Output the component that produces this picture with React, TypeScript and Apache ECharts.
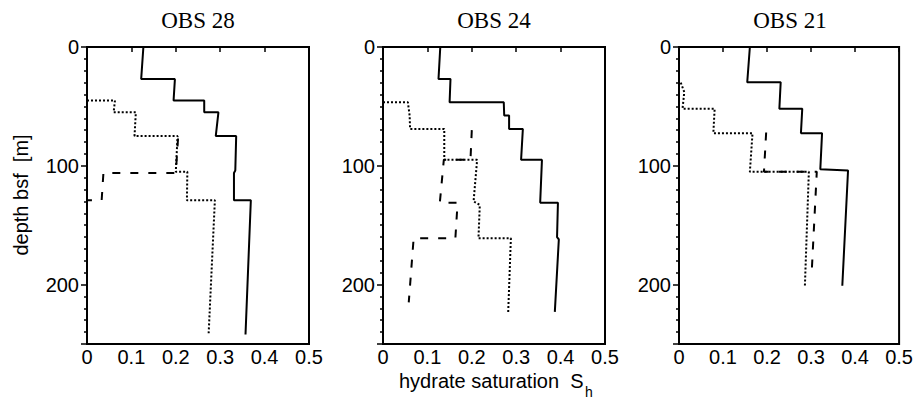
import React, { useEffect, useRef } from "react";
import * as echarts from "echarts";

const panelTitles = ["OBS 28", "OBS 24", "OBS 21"];
const xTickValues = [0, 0.1, 0.2, 0.3, 0.4, 0.5];
const depthTickValues = [0, 100, 200];

// OBS 28
const obs28SolidSat = [0.127, 0.122, 0.198, 0.195, 0.264, 0.264, 0.296, 0.29, 0.336, 0.334, 0.331, 0.331, 0.369, 0.357];
const obs28SolidDepth = [0, 27, 27, 45, 45, 55, 55, 75, 75, 104, 106, 129, 129, 242];
const obs28DotSat = [0, 0.063, 0.06, 0.11, 0.107, 0.204, 0.2, 0.226, 0.225, 0.288, 0.274];
const obs28DotDepth = [45, 45, 55, 55, 75, 75, 105, 105, 129, 129, 241];
const obs28DashSat = [0.205, 0.2, 0.037, 0.033, 0];
const obs28DashDepth = [77, 106, 106, 129, 129];

// OBS 24
const obs24SolidSat = [0.129, 0.125, 0.152, 0.15, 0.272, 0.273, 0.284, 0.284, 0.315, 0.311, 0.358, 0.354, 0.394, 0.392, 0.396, 0.387];
const obs24SolidDepth = [0, 27, 27, 46.5, 46.5, 57.7, 57.7, 69, 69, 95, 95, 131, 131, 160, 162, 223];
const obs24DotSat = [0, 0.056, 0.06, 0.061, 0.138, 0.138, 0.212, 0.204, 0.218, 0.215, 0.288, 0.282];
const obs24DotDepth = [46.5, 46.5, 57.7, 69, 69, 95, 95, 130, 133, 161, 161, 223];
const obs24DashSat = [0.2, 0.197, 0.137, 0.128, 0.168, 0.163, 0.069, 0.058];
const obs24DashDepth = [70, 95, 95, 131, 131, 161, 161, 215];

// OBS 21
const obs21SolidSat = [0.161, 0.155, 0.231, 0.228, 0.28, 0.277, 0.325, 0.321, 0.384, 0.371];
const obs21SolidDepth = [0, 29.7, 29.7, 52, 52, 72.5, 72.5, 103, 104, 201];
const obs21DotSat = [0.004, 0.012, 0.008, 0.081, 0.078, 0.167, 0.161, 0.295, 0.286];
const obs21DotDepth = [30, 38, 52, 52, 72.5, 72.5, 105, 105, 201];
const obs21DashSat = [0.198, 0.193, 0.313, 0.301];
const obs21DashDepth = [72, 105, 105, 193];

const panels = [
  { solid: [obs28SolidSat, obs28SolidDepth], dot: [obs28DotSat, obs28DotDepth], dash: [obs28DashSat, obs28DashDepth] },
  { solid: [obs24SolidSat, obs24SolidDepth], dot: [obs24DotSat, obs24DotDepth], dash: [obs24DashSat, obs24DashDepth] },
  { solid: [obs21SolidSat, obs21SolidDepth], dot: [obs21DotSat, obs21DotDepth], dash: [obs21DashSat, obs21DashDepth] },
];

const zip = (a: number[], b: number[]) => a.map((v, i) => [v, b[i]]);

const SANS = "'Liberation Sans', Arial, sans-serif";
const SERIF = "'Liberation Serif', 'Times New Roman', serif";

export default function App() {
  const ref = useRef<HTMLDivElement>(null);
  useEffect(() => {
    if (!ref.current) return;
    const chart = echarts.init(ref.current, undefined, { renderer: "svg" });
    const lefts = [87, 383, 679];
    const W = 222;
    const top = 47;
    const H = 297;
    const grids = lefts.map((l) => ({
      left: l,
      top,
      width: W,
      height: H,
      show: true,
      borderColor: "#000",
      borderWidth: 2,
      backgroundColor: "transparent",
    }));
    const xAxes = lefts.map((_, i) => ({
      type: "value",
      gridIndex: i,
      min: xTickValues[0],
      max: xTickValues[xTickValues.length - 1],
      interval: 0.1,
      axisLine: { show: true, lineStyle: { color: "#000", width: 2 } },
      axisTick: { show: true, length: 5, lineStyle: { color: "#000", width: 1.5 } },
      splitLine: { show: false },
      axisLabel: {
        fontSize: 20,
        color: "#000",
        fontFamily: SANS,
        margin: 3,
        formatter: (v: number) => String(+v.toFixed(1)),
      },
    }));
    const yAxes = lefts.map((_, i) => ({
      type: "value",
      gridIndex: i,
      inverse: true,
      min: 0,
      max: 250,
      interval: 100,
      axisLine: { show: true, lineStyle: { color: "#000", width: 2 } },
      axisTick: { show: true, length: 6, lineStyle: { color: "#000", width: 1.5 } },
      minorTick: { show: true, splitNumber: 10, length: 3, lineStyle: { color: "#000", width: 1.5 } },
      splitLine: { show: false },
      minorSplitLine: { show: false },
      axisLabel: {
        fontSize: 20,
        color: "#000",
        fontFamily: SANS,
        margin: 8,
        formatter: (v: number) => (depthTickValues.includes(v) ? String(v) : ""),
      },
    }));
    const series: any[] = [];
    panels.forEach((p, i) => {
      series.push({
        type: "line",
        xAxisIndex: i,
        yAxisIndex: i,
        data: zip(p.solid[0], p.solid[1]),
        symbol: "none",
        lineStyle: { color: "#000", width: 2, type: "solid" },
      });
      series.push({
        type: "line",
        xAxisIndex: i,
        yAxisIndex: i,
        data: zip(p.dot[0], p.dot[1]),
        symbol: "none",
        lineStyle: { color: "#000", width: 2, type: [2, 2] },
      });
      series.push({
        type: "line",
        xAxisIndex: i,
        yAxisIndex: i,
        data: zip(p.dash[0], p.dash[1]),
        symbol: "none",
        lineStyle: { color: "#000", width: 2, type: [8, 10] },
      });
    });
    const titles = panelTitles.map((t, i) => ({
      text: t,
      left: lefts[i] + W / 2,
      top: 9,
      textAlign: "center",
      padding: 0,
      textStyle: { fontFamily: SERIF, fontSize: 23, fontWeight: "normal", color: "#000" },
    }));
    chart.setOption({
      animation: false,
      backgroundColor: "#fff",
      title: titles,
      grid: grids,
      xAxis: xAxes,
      yAxis: yAxes,
      series,
      graphic: [
        {
          type: "text",
          x: 21,
          y: 195,
          rotation: Math.PI / 2,
          style: {
            text: "depth bsf  [m]",
            fontSize: 20,
            fontFamily: SANS,
            fill: "#000",
            textAlign: "center",
            textVerticalAlign: "middle",
          },
        },
        {
          type: "text",
          x: 399,
          y: 381,
          style: {
            text: "hydrate saturation  S",
            fontSize: 20,
            fontFamily: SANS,
            fill: "#000",
            textAlign: "left",
            textVerticalAlign: "middle",
          },
        },
        {
          type: "text",
          x: 585,
          y: 392,
          style: {
            text: "h",
            fontSize: 14,
            fontFamily: SANS,
            fill: "#000",
            textAlign: "left",
            textVerticalAlign: "middle",
          },
        },
      ],
    });
    return () => chart.dispose();
  }, []);
  return (
    <div
      ref={ref}
      style={{ position: "fixed", left: 0, top: 0, width: 916, height: 405, background: "#fff" }}
    />
  );
}
